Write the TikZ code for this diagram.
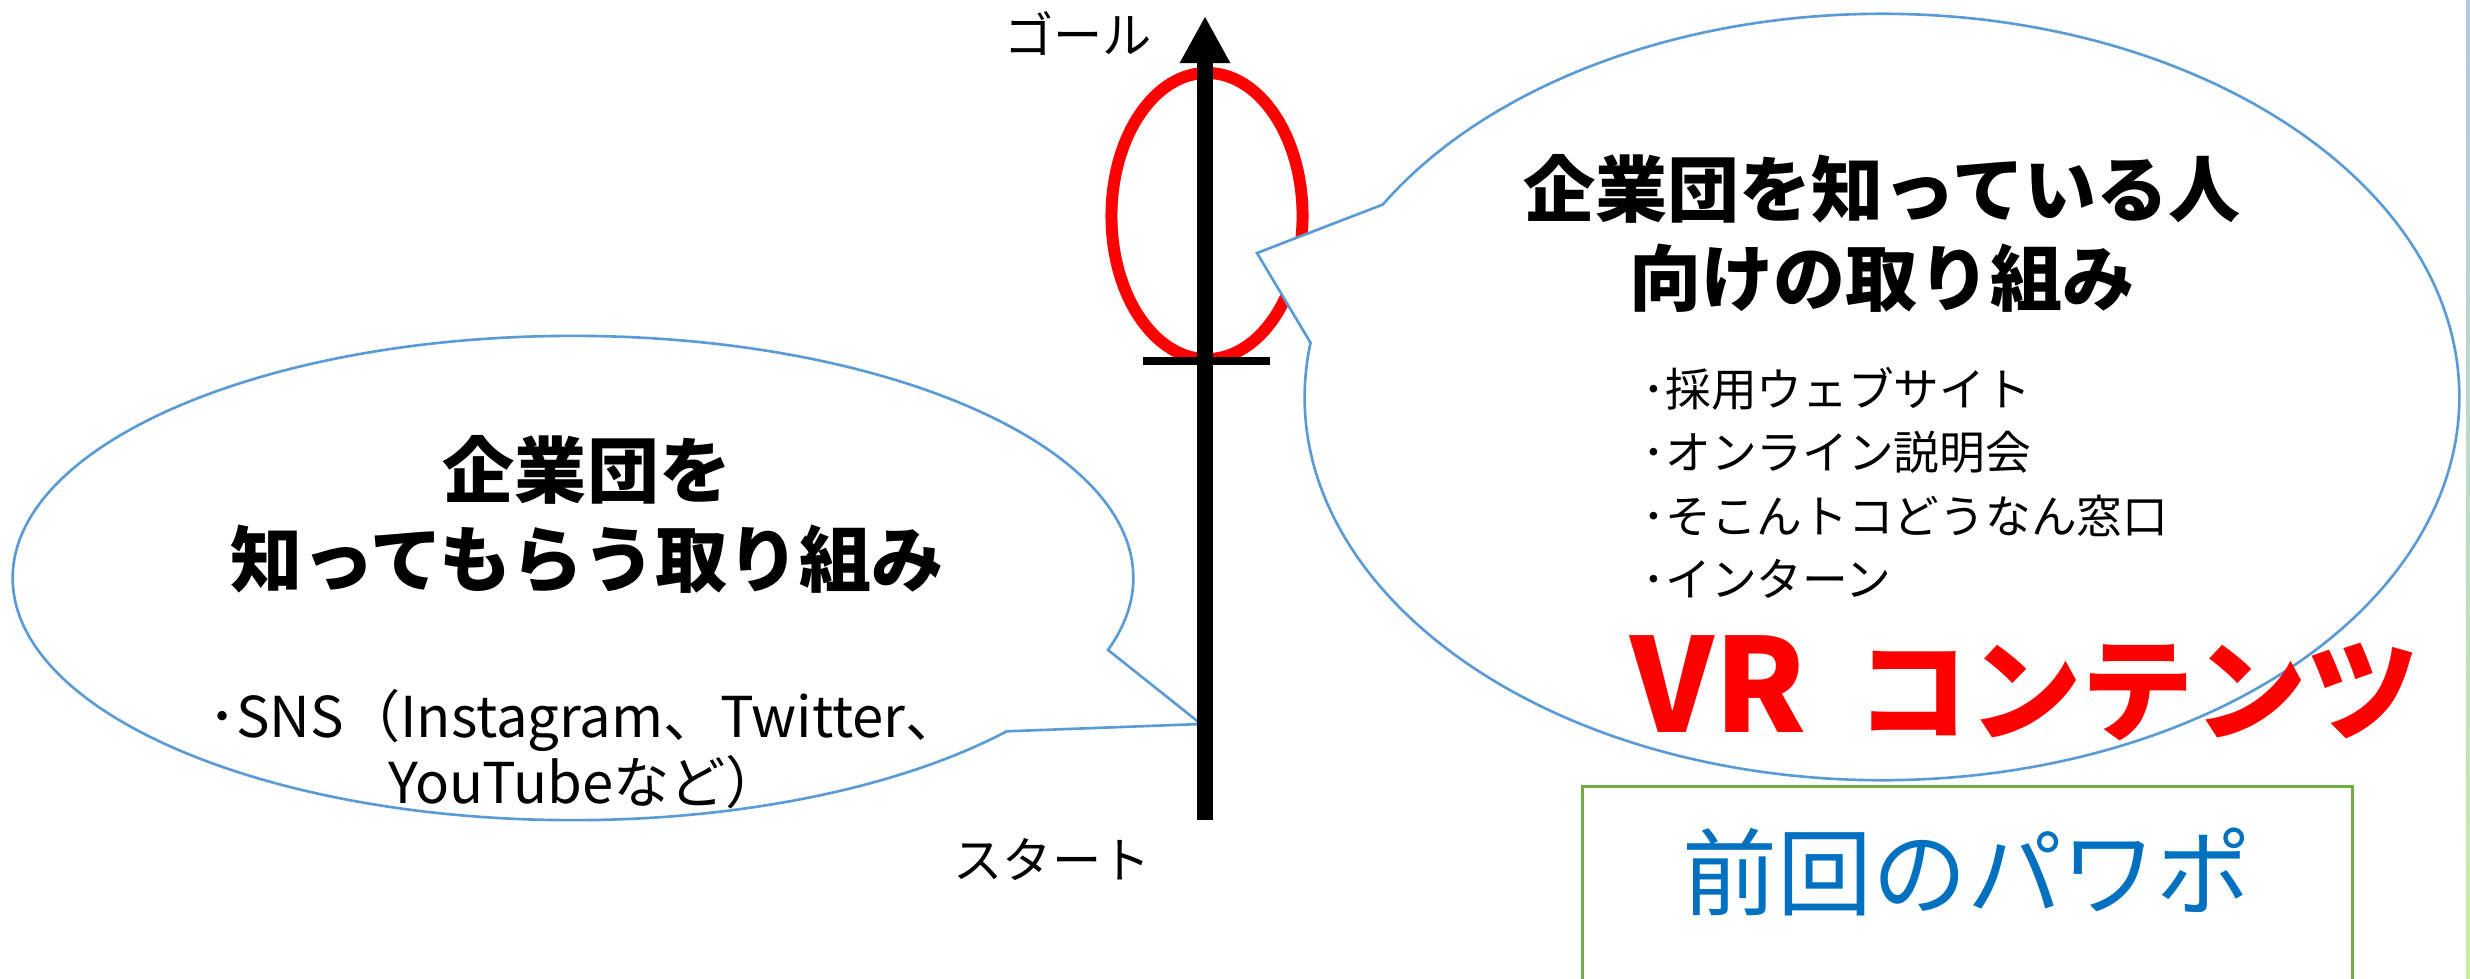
\documentclass[tikz,border=0pt]{standalone}
\usepackage{fontspec}
\setmainfont{Noto Sans CJK JP}
\usetikzlibrary{arrows.meta,positioning,shapes.geometric,shapes.callouts}

\definecolor{calloutblue}{RGB}{91,155,213}
\definecolor{boxgreen}{RGB}{112,173,71}
\definecolor{linkblue}{RGB}{0,112,192}
\definecolor{edgeblue}{RGB}{180,199,231}
\definecolor{edgegreen}{RGB}{197,240,160}

\begin{document}
\begin{tikzpicture}[x=0.01cm,y=-0.01cm,
    bubble/.style={ellipse callout,draw=calloutblue,line width=0.75pt,fill=white,inner sep=0pt},
    heading/.style={font=\fontsize{20.5}{25.3}\selectfont\bfseries,align=center},
    items/.style={font=\fontsize{13}{18}\selectfont,align=left},
    milestone/.style={font=\fontsize{14}{16}\selectfont}]

  \useasboundingbox (0,0) rectangle (2470,978);
  \clip (0,0) rectangle (2470,978);

  % goal ring behind everything
  \node[ellipse,draw=red,line width=3.4pt,minimum width=1.91cm,minimum height=2.86cm,inner sep=0pt] (ring) at (1207,216) {};

  \coordinate (lefttip) at (1201,724);
  \coordinate (righttip) at (1257,253);

  \node[bubble,minimum width=11.2cm,minimum height=4.84cm,
        callout absolute pointer={(lefttip)},callout pointer arc=22] (newcomers) at (573,578) {};
  \node[bubble,minimum width=11.54cm,minimum height=7.66cm,
        callout absolute pointer={(righttip)},callout pointer arc=22] (insiders) at (1882,397) {};

  % time line
  \coordinate (start) at (1205,820);
  \coordinate (goal) at (1205,16);
  \draw[line width=4.55pt,-{Triangle[width=0.47cm,length=0.47cm]}] (start) -- (goal);
  \coordinate (barl) at (1143,361);
  \coordinate (barr) at (1270,361);
  \draw[line width=2.3pt] (barl) -- (barr);

  \node[milestone] (goaltext) at (1078,33) {ゴール};
  \node[milestone] (starttext) at (1052,860) {スタート};

  % left bubble
  \node[heading] (lefthead) at (587,514) {企業団を\\知ってもらう取り組み};
  \node[font=\fontsize{16}{15}\selectfont,align=center] (sns) at (585,749)
    {･SNS（Instagram、Twitter、\\YouTubeなど）};

  % right bubble
  \node[heading] (righthead) at (1882,233) {企業団を知っている人\\向けの取り組み};
  \node[items,anchor=west] (list) at (1630,483)
    {･採用ウェブサイト\\･オンライン説明会\\･そこんトコどうなん窓口\\･インターン};

  \node[text=red,font=\bfseries] (vr) at (2025,688)
    {\fontsize{37}{37}\selectfont VR\hspace{0.5cm}\fontsize{32}{32}\selectfont コンテンツ};

  % previous slides box
  \node[draw=boxgreen,line width=0.85pt,minimum width=7.69cm,minimum height=3cm,anchor=north] (prevbox) at (1967.5,785) {};
  \node[text=linkblue,font=\fontsize{27}{27}\selectfont] (prevtext) at (1967,872) {前回のパワポ};

  \shade[top color=edgeblue,bottom color=edgegreen] (2466,0) rectangle (2470,978);
\end{tikzpicture}
\end{document}
